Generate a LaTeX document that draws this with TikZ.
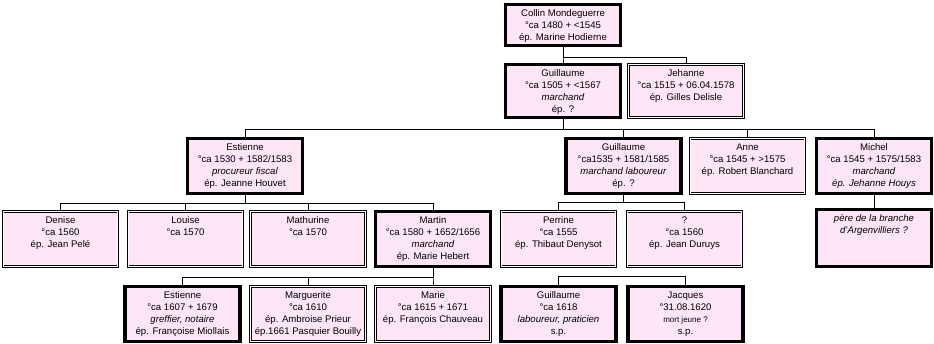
\documentclass[tikz,border=0pt]{standalone}
\usepackage{fontspec}
\setmainfont{Liberation Sans}
\usetikzlibrary{positioning}
\definecolor{fichePink}{RGB}{255, 230, 247}
\newcommand{\petit}{\fontsize{7.2}{9}\selectfont}
\newcommand{\fiche}[2][41.5pt]{\parbox[c][#1][t]{86pt}{\centering\rule{0pt}{9pt}#2}}
\tikzset{
  fort/.style={rectangle, draw=black, line width=2.6pt, fill=fichePink, inner sep=0pt, font=\petit},
  simple/.style={rectangle, draw=black, line width=0.45pt, double=white, double distance=0.9pt, fill=fichePink, inner sep=0pt, font=\petit},
  lien/.style={draw=black, line width=0.6pt},
}

\begin{document}
\begin{tikzpicture}[x=0.75pt, y=-0.75pt]
  \useasboundingbox (0,0) rectangle (934,343);
  % generation 1
  \node[fort] (collin) at (563,25) {\fiche[31pt]{Collin Mondeguerre\\°ca 1480 + <1545\\ép. Marine Hodierne}};
  % generation 2
  \node[fort] (guillaumeA) at (563,91) {\fiche[40pt]{Guillaume\\°ca 1505 + <1567\\\textit{marchand}\\ép. ?}};
  \node[simple] (jehanne) at (686,91) {\fiche[40pt]{Jehanne\\°ca 1515 + 06.04.1578\\ép. Gilles Delisle}};
  % generation 3
  \node[fort] (estienneA) at (245,166) {\fiche{Estienne\\°ca 1530 + 1582/1583\\\textit{procureur fiscal}\\ép. Jeanne Houvet}};
  \node[fort] (guillaumeB) at (623.5,166) {\fiche{Guillaume\\°ca1535 + 1581/1585\\\textit{marchand laboureur}\\ép. ?}};
  \node[simple] (anne) at (747.5,166) {\fiche{Anne\\°ca 1545 + >1575\\ép. Robert Blanchard}};
  \node[fort] (michel) at (874,166) {\fiche{Michel\\°ca 1545 + 1575/1583\\\textit{marchand}\\\textit{ép. Jehanne Houys}}};
  % generation 4
  \node[simple] (denise) at (60.5,239) {\fiche{Denise\\°ca 1560\\ép. Jean Pelé}};
  \node[simple] (louise) at (185.5,239) {\fiche{Louise\\°ca 1570}};
  \node[simple] (mathurine) at (308,239) {\fiche{Mathurine\\°ca 1570}};
  \node[fort] (martin) at (433,239) {\fiche{Martin\\°ca 1580 + 1652/1656\\\textit{marchand}\\ép. Marie Hebert}};
  \node[simple] (perrine) at (558.5,239) {\fiche{Perrine\\°ca 1555\\ép. Thibaut Denysot}};
  \node[simple] (inconnu) at (684.5,239) {\fiche{?\\°ca 1560\\ép. Jean Duruys}};
  \node[fort] (branche) at (874,238) {\fiche[43pt]{\textit{père de la branche}\\\textit{d'Argenvilliers ?}}};
  % generation 5
  \node[fort] (estienneB) at (182.5,314) {\fiche{Estienne\\°ca 1607 + 1679\\\textit{greffier, notaire}\\ép. Françoise Miollais}};
  \node[simple] (marguerite) at (308,314) {\fiche{Marguerite\\°ca 1610\\ép. Ambroise Prieur\\ép.1661 Pasquier Bouilly}};
  \node[simple] (marie) at (433,314) {\fiche{Marie\\°ca 1615 + 1671\\ép. François Chauveau}};
  \node[fort] (guillaumeC) at (558.5,314) {\fiche{Guillaume\\°ca 1618\\\textit{laboureur, praticien}\\s.p.}};
  \node[fort] (jacques) at (685.5,314) {\fiche{Jacques\\°31.08.1620\\{\fontsize{6}{9}\selectfont mort jeune ?}\\s.p.}};

  % liens de filiation
  \foreach \c in {guillaumeA, jehanne}
    \draw[lien] (collin.south) -- ++(0,10) -| (\c.north);
  \foreach \c in {estienneA, guillaumeB, anne, michel}
    \draw[lien] (guillaumeA.south) -- ++(0,10) -| (\c.north);
  \foreach \c in {denise, louise, mathurine, martin}
    \draw[lien] (estienneA.south) -- ++(0,8) -| (\c.north);
  \foreach \c in {perrine, inconnu}
    \draw[lien] (guillaumeB.south) -- ++(0,7) -| (\c.north);
  \draw[lien] (michel.south) -- (branche.north);
  \foreach \c in {estienneB, marguerite, marie}
    \draw[lien] (martin.south) -- ++(0,9) -| (\c.north);
  \draw[lien] (guillaumeC.north) -- ++(0,-8) -| (jacques.north);
\end{tikzpicture}
\end{document}
